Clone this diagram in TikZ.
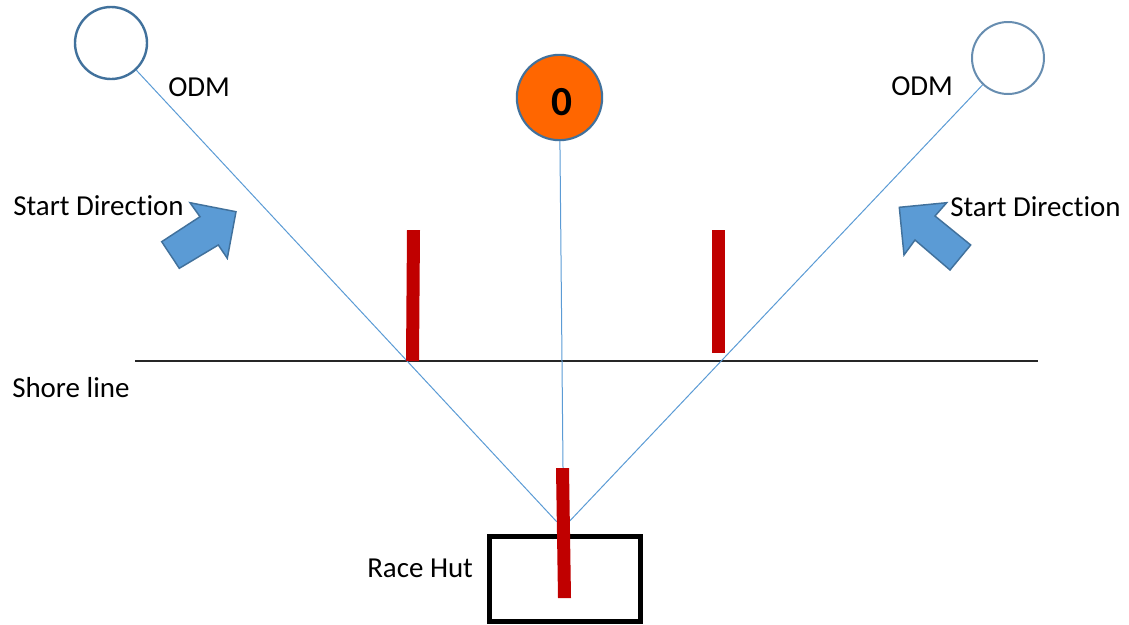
\documentclass[tikz,border=0pt]{standalone}
\usepackage{fontspec}
\setmainfont[Ligatures={NoCommon,NoDiscretionary,NoContextual}]{Carlito}
\definecolor{outl}{HTML}{41719C}
\definecolor{fillb}{HTML}{5B9BD5}
\definecolor{barred}{HTML}{C00000}
\definecolor{orng}{HTML}{FF6600}
\tikzset{
  odm/.style={circle, draw=outl, line width=1.8pt, minimum size=54pt, inner sep=0pt},
  sight/.style={draw=fillb, line width=0.75pt},
  marker/.style={fill=barred},
  bigarrow/.style={fill=fillb, draw=outl, line width=1.1pt, line join=miter},
  lbl/.style={anchor=base west, inner sep=0pt, font=\fontsize{21.7}{26}\selectfont},
}
\begin{document}
\begin{tikzpicture}[x=0.75pt, y=-0.75pt]
\useasboundingbox (0,0) rectangle (1129,625);
% shore line
\coordinate (shoreL) at (135,361);
\coordinate (shoreR) at (1038,361);
\draw[line width=1pt, black!85] (shoreL) -- (shoreR);
% circles
\node[odm] (lodm) at (111,43) {};
\node[odm, line width=1.5pt, draw=outl!80] (rodm) at (1008,58) {};
\node[circle, draw=outl, fill=orng, line width=1.6pt, minimum size=64pt, inner sep=0pt] (zero) at (559.5,97.5) {};
\node[anchor=base, inner sep=0pt, font=\fontsize{31}{34}\selectfont\bfseries] (zerotext) at (562,115.5) {0};
% sight lines
\coordinate (hutL) at (556.7,521.7);
\coordinate (hutR) at (552.7,539);
\coordinate (hutC) at (563.5,520);
\draw[sight] (lodm) -- (hutL);
\draw[sight] (rodm) -- (hutR);
\draw[sight] (zero) -- (hutC);
% race hut
\node[draw, line width=3.75pt, minimum width=113.25pt, minimum height=63.75pt, inner sep=0pt] (hut) at (564.5,578.5) {};
% red markers
\fill[marker] (407,230) -- (420,230) -- (419,361) -- (406,361) -- cycle;
\fill[marker] (711.5,230) -- (725,230) -- (725,353) -- (711.5,353) -- cycle;
\fill[marker] (556,468) -- (569,468) -- (571,598) -- (558,598) -- cycle;
% start direction arrows
\draw[bigarrow] (190,202.7) -- (236,211.7) -- (227.3,258.3) -- (218.3,245) -- (179.3,268.3) -- (161.7,241.7) -- (200,216.7) -- cycle;
\draw[bigarrow] (899.3,207.3) -- (946.7,202.7) -- (935,216) -- (970.7,245) -- (950,270) -- (915,240) -- (904,255) -- cycle;
% labels
\node[lbl] (odmL) at (168,96) {ODM};
\node[lbl] (odmR) at (891,95.5) {ODM};
\node[lbl] (sdL) at (13,215.5) {Start Direction};
\node[lbl] (sdR) at (950,216) {Start Direction};
\node[lbl] (shore) at (12,397) {Shore line};
\node[lbl] (racehut) at (367,577) {Race Hut};
\end{tikzpicture}
\end{document}
